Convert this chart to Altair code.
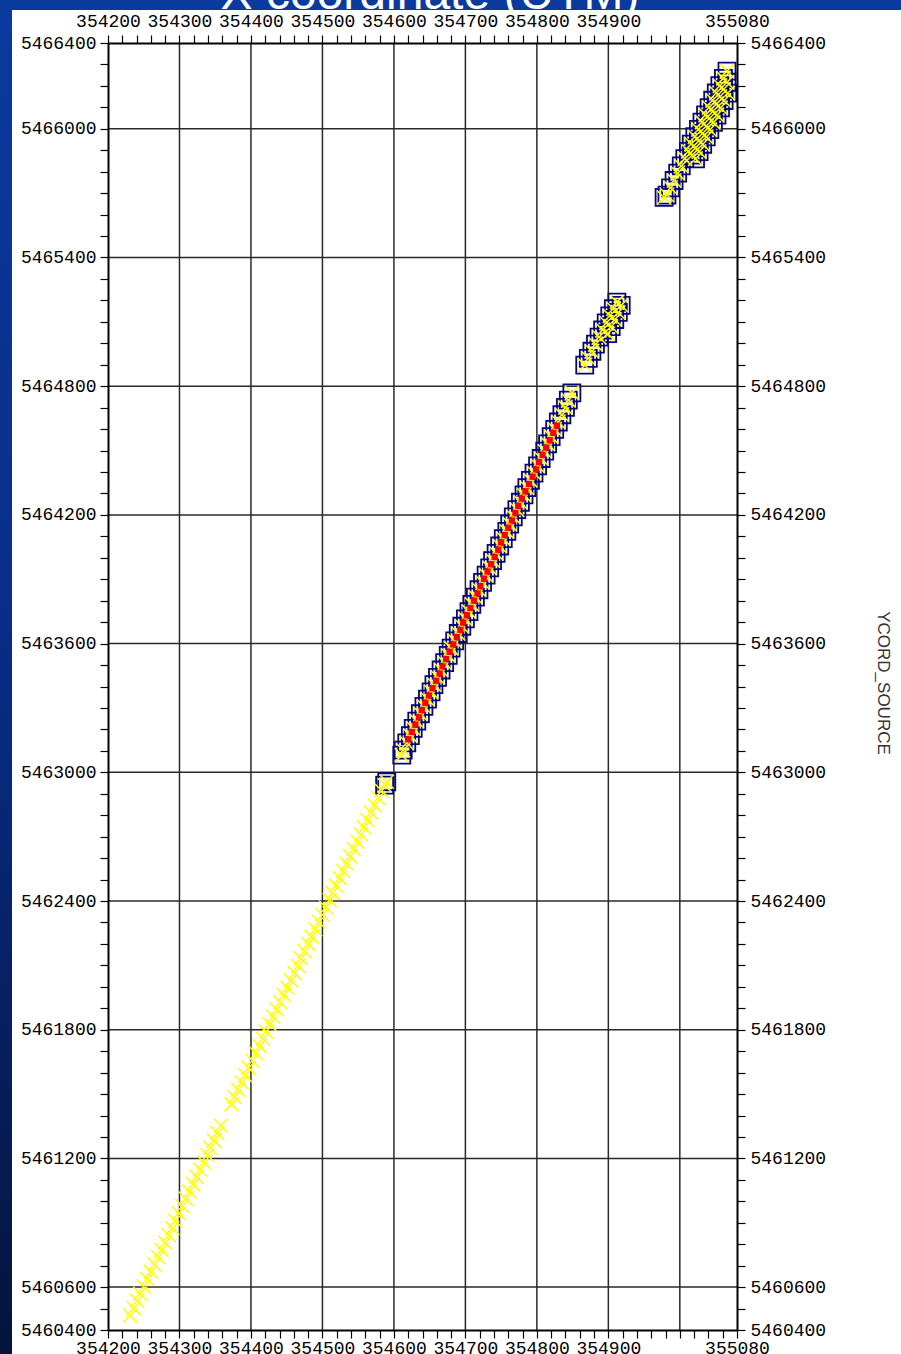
import altair as alt
import pandas as pd

TITLE = "X coordinate (UTM)"
Y_TITLE = "YCORD_SOURCE"

X_DOMAIN = [354200, 355080]
Y_DOMAIN = [5460400, 5466400]
x_tick_values = list(range(354200, 355081, 20))
x_label_values = [354200, 354300, 354400, 354500, 354600, 354700, 354800, 354900, 355080]
y_tick_values = list(range(5460400, 5466401, 100))
y_label_values = [5460400, 5460600, 5461200, 5461800, 5462400, 5463000, 5463600,
                  5464200, 5464800, 5465400, 5466000, 5466400]
grid_x = [354300, 354400, 354500, 354600, 354700, 354800, 354900, 355000]
grid_y = [5460600, 5461200, 5461800, 5462400, 5463000, 5463600, 5464200, 5464800,
          5465400, 5466000]

# lower line: yellow crosses only
lower_x = [354231, 354236, 354241, 354245, 354250, 354255, 354260, 354265, 354270, 354275,
           354280, 354285, 354290, 354294, 354299, 354304, 354309, 354314, 354319, 354324,
           354329, 354334, 354339, 354343, 354348, 354353, 354358, 354373, 354377, 354382,
           354387, 354392, 354397, 354402, 354407, 354412, 354417, 354421, 354426, 354431,
           354436, 354441, 354446, 354451, 354456, 354461, 354466, 354470, 354475, 354480,
           354485, 354490, 354495, 354500, 354505, 354510, 354514, 354519, 354524, 354529,
           354534, 354539, 354544, 354549, 354554, 354558, 354563, 354568, 354573, 354578,
           354583]
lower_y = [5460468, 5460501, 5460536, 5460569, 5460603, 5460638, 5460671, 5460705, 5460740, 5460773,
           5460807, 5460842, 5460875, 5460909, 5460944, 5460978, 5461012, 5461046, 5461080, 5461114,
           5461148, 5461182, 5461216, 5461250, 5461284, 5461318, 5461352, 5461452, 5461486, 5461520,
           5461554, 5461588, 5461622, 5461656, 5461690, 5461724, 5461758, 5461792, 5461826, 5461860,
           5461894, 5461928, 5461962, 5461996, 5462030, 5462064, 5462098, 5462132, 5462166, 5462200,
           5462234, 5462268, 5462302, 5462336, 5462370, 5462404, 5462438, 5462472, 5462506, 5462540,
           5462574, 5462608, 5462642, 5462676, 5462710, 5462744, 5462778, 5462812, 5462846, 5462880,
           5462914]

# isolated boxed point
segA_x = [354587, 354590]
segA_y = [5462940, 5462956]

# long boxed segment
segB_x = [354611, 354613, 354618, 354623, 354627, 354632, 354637, 354642, 354647, 354652, 354656,
          354661, 354666, 354671, 354676, 354680, 354685, 354690, 354695, 354700, 354705,
          354709, 354714, 354719, 354724, 354729, 354734, 354738, 354743, 354748, 354753,
          354758, 354762, 354767, 354772, 354777, 354782, 354786, 354791, 354796, 354801,
          354806, 354811, 354815, 354820, 354825, 354830, 354835, 354840, 354844, 354849]
segB_y = [5463080, 5463103, 5463137, 5463171, 5463205, 5463239, 5463273, 5463307, 5463341, 5463375, 5463409,
          5463443, 5463477, 5463511, 5463545, 5463579, 5463613, 5463647, 5463681, 5463715, 5463749,
          5463783, 5463817, 5463851, 5463885, 5463919, 5463953, 5463987, 5464021, 5464055, 5464089,
          5464123, 5464157, 5464191, 5464225, 5464259, 5464293, 5464327, 5464361, 5464395, 5464429,
          5464463, 5464497, 5464531, 5464565, 5464599, 5464633, 5464667, 5464701, 5464735, 5464769]

# red points on the long segment
red_x = [354620, 354625, 354630, 354635, 354639, 354644, 354649, 354654, 354659, 354664,
         354668, 354673, 354678, 354683, 354688, 354693, 354697, 354702, 354707, 354712,
         354717, 354721, 354726, 354731, 354736, 354741, 354746, 354750, 354755, 354760,
         354765, 354770, 354774, 354779, 354784, 354789, 354794, 354799, 354803, 354808,
         354813, 354818, 354823, 354828]
red_y = [5463154, 5463188, 5463222, 5463256, 5463290, 5463324, 5463358, 5463392, 5463426, 5463460,
         5463494, 5463528, 5463562, 5463596, 5463630, 5463664, 5463698, 5463732, 5463766, 5463800,
         5463834, 5463868, 5463902, 5463936, 5463970, 5464004, 5464038, 5464072, 5464106, 5464140,
         5464174, 5464208, 5464242, 5464276, 5464310, 5464344, 5464378, 5464412, 5464446, 5464480,
         5464514, 5464548, 5464582, 5464616]

# short boxed segment
segC_x = [354867, 354872, 354877, 354882, 354887, 354892, 354897, 354902, 354907, 354912,
          354899, 354904, 354909, 354914, 354918]
segC_y = [5464898, 5464930, 5464963, 5464996, 5465029, 5465062, 5465095, 5465128, 5465161, 5465192,
          5465045, 5465078, 5465111, 5465144, 5465177]

# top boxed segment (three overlapping rows)
segD_x = [354978, 354982, 354987, 354992, 354997, 355002, 355007, 355012, 355016, 355021,
          355026, 355031, 355036, 355041, 355046, 355051, 355056, 355061, 355066,
          355017, 355022, 355027, 355032, 355037, 355041, 355046, 355051, 355056, 355061, 355066,
          355022, 355027, 355032, 355037, 355042, 355047, 355052, 355057, 355062, 355067]
segD_y = [5465680, 5465691, 5465725, 5465759, 5465793, 5465827, 5465861, 5465895, 5465929, 5465963,
          5465997, 5466031, 5466065, 5466099, 5466133, 5466167, 5466201, 5466235, 5466269,
          5465877, 5465911, 5465945, 5465979, 5466013, 5466047, 5466081, 5466115, 5466149, 5466183, 5466217,
          5465860, 5465894, 5465928, 5465962, 5465996, 5466030, 5466064, 5466098, 5466132, 5466166]

# ---------------------------------------------------------------------------
W, H = 629, 1287
PAD = {"left": 108, "top": 43, "right": 164, "bottom": 24}

xs = alt.Scale(domain=X_DOMAIN, nice=False, zero=False)
ys = alt.Scale(domain=Y_DOMAIN, nice=False, zero=False)


def lab_expr(vals):
    return "indexof([" + ",".join(str(v) for v in vals) + "], datum.value) >= 0 ? datum.label : ''"


common = dict(format="d", labelFont="Liberation Mono", labelFontSize=18, labelColor="black",
              tickColor="black", tickWidth=1.2, tickSize=8, domainColor="black", domainWidth=2,
              grid=False, title=None, labelOverlap=False, labelBound=False, labelFlush=False,
              zindex=2)

ax_top = alt.Axis(orient="top", values=x_tick_values, labelExpr=lab_expr(x_label_values),
                  labelPadding=5, **common)
ax_bottom = alt.Axis(orient="bottom", values=x_tick_values, labelExpr=lab_expr(x_label_values),
                     labelPadding=1, **common)
ax_left = alt.Axis(orient="left", values=y_tick_values, labelExpr=lab_expr(y_label_values),
                   labelPadding=4, **common)
ax_right = alt.Axis(orient="right", values=y_tick_values, labelExpr=lab_expr(y_label_values),
                    labelPadding=5, **common)

one = pd.DataFrame({"a": [0]})

bg = alt.Chart(one).mark_rect(
    fill=alt.LinearGradient(
        gradient="linear",
        stops=[alt.GradientStop(color="#0a3a9e", offset=0),
               alt.GradientStop(color="#082c84", offset=0.5),
               alt.GradientStop(color="#04143c", offset=1)],
        x1=0, x2=0, y1=0, y2=1),
).encode(x=alt.value(-PAD["left"]), x2=alt.value(W + PAD["right"]),
         y=alt.value(-PAD["top"]), y2=alt.value(H + PAD["bottom"]))

title = alt.Chart(one).mark_text(font="Liberation Sans", fontSize=48, color="white",
                                 align="center", baseline="alphabetic").encode(
    x=alt.value(322), y=alt.value(-34), text=alt.value(TITLE))

white = alt.Chart(one).mark_rect(color="white").encode(
    x=alt.value(-96), x2=alt.value(W + PAD["right"]),
    y=alt.value(-33), y2=alt.value(H + PAD["bottom"]))

ytitle = alt.Chart(one).mark_text(font="Liberation Sans", fontSize=17, color="#333333",
                                  align="center", baseline="middle", angle=90).encode(
    x=alt.value(775), y=alt.value(640), text=alt.value(Y_TITLE))

gx = alt.Chart(pd.DataFrame({"x": grid_x})).mark_rule(color="#2a2a2a", strokeWidth=1.5).encode(
    x=alt.X("x:Q", scale=xs, axis=ax_top))
gy = alt.Chart(pd.DataFrame({"y": grid_y})).mark_rule(color="#2a2a2a", strokeWidth=1.5).encode(
    y=alt.Y("y:Q", scale=ys, axis=ax_left))

boxes_df = pd.DataFrame({"x": segA_x + segB_x + segC_x + segD_x,
                         "y": segA_y + segB_y + segC_y + segD_y})
cross_df = pd.DataFrame({"x": lower_x + segA_x + segB_x + segC_x + segD_x,
                         "y": lower_y + segA_y + segB_y + segC_y + segD_y})
red_df = pd.DataFrame({"x": red_x, "y": red_y})

boxes = alt.Chart(boxes_df).mark_point(shape="square", filled=False, size=289, color="#06067e",
                                       strokeWidth=1.8, opacity=1).encode(
    x=alt.X("x:Q", scale=xs, axis=None), y=alt.Y("y:Q", scale=ys, axis=None))

crosses = alt.Chart(cross_df).mark_point(shape="M-1,-1L1,1M-1,1L1,-1", filled=False, size=196,
                                         color="#ffff00", strokeWidth=1.5, opacity=1).encode(
    x=alt.X("x:Q", scale=xs, axis=ax_bottom), y=alt.Y("y:Q", scale=ys, axis=ax_right))

reds = alt.Chart(red_df).mark_square(size=40, color="#ff0000", opacity=1).encode(
    x=alt.X("x:Q", scale=xs, axis=None), y=alt.Y("y:Q", scale=ys, axis=None))

chart = alt.layer(bg, title, white, ytitle, gx, gy, boxes, crosses, reds).resolve_axis(
    x="independent", y="independent"
).properties(
    width=W, height=H, autosize="none", padding=PAD
).configure_view(stroke=None)

chart.save("out.html", embed_options={"renderer": "svg", "actions": False})
